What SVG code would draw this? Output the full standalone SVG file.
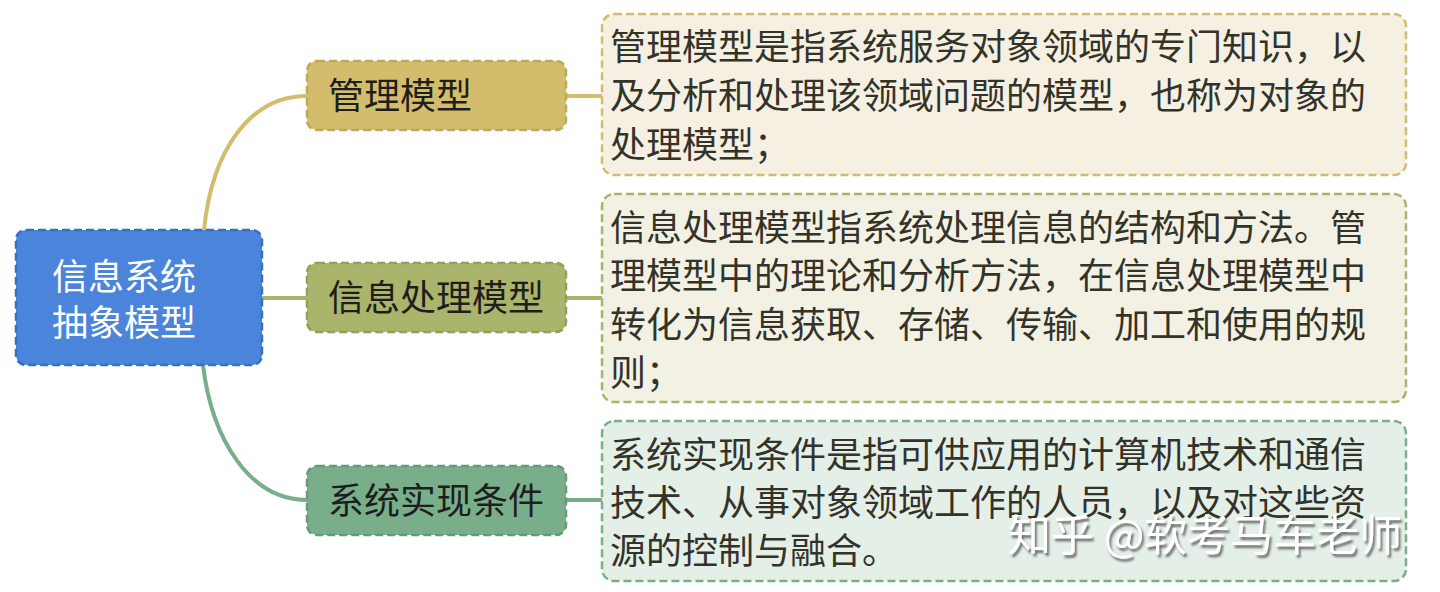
<svg xmlns="http://www.w3.org/2000/svg" width="1440" height="592" viewBox="0 0 1440 592">
<style>
text{font-family:"Noto Sans CJK SC","Noto Sans",sans-serif;}
.box{stroke-width:2.5;stroke-dasharray:8 4;}
.conn{fill:none;stroke-width:4;}
.lbl{font-size:36px;fill:#1e1e1e;}
.desc{font-size:36px;fill:#33332a;}
.root{font-size:36px;fill:#ffffff;}
</style>
<defs>
<filter id="sh" x="-5%" y="-20%" width="110%" height="150%">
<feDropShadow dx="2" dy="3" stdDeviation="1" flood-color="#555" flood-opacity="0.8"/>
</filter>
</defs>
<rect width="1440" height="592" fill="#ffffff"/>
<g id="connectors">
<path class="conn" stroke="#d3bd6c" d="M204,230 C212,150 250,96 307,96"/>
<path class="conn" stroke="#aab46a" d="M262,298 L307,298"/>
<path class="conn" stroke="#78ae8a" d="M203,365 C212,440 250,500 307,500"/>
<path class="conn" stroke="#d3bd6c" stroke-width="3" d="M566,96 L602,96"/>
<path class="conn" stroke="#aab46a" stroke-width="3" d="M566,298 L602,298"/>
<path class="conn" stroke="#78ae8a" stroke-width="3" d="M566,500 L602,500"/>
</g>
<g id="root">
<rect class="box" x="16" y="230" width="246" height="135" rx="10" fill="#4a84db" stroke="#3a6fc0"/>
<text class="root" x="124" y="290" text-anchor="middle">信息系统</text>
<text class="root" x="124" y="336" text-anchor="middle">抽象模型</text>
</g>
<g id="n1">
<rect class="box" x="307" y="61" width="259" height="69" rx="10" fill="#d3bd6c" stroke="#c0a955"/>
<text class="lbl" x="328" y="109">管理模型</text>
</g>
<g id="n2">
<rect class="box" x="307" y="263" width="259" height="69" rx="10" fill="#aab46a" stroke="#969f58"/>
<text class="lbl" x="328" y="311">信息处理模型</text>
</g>
<g id="n3">
<rect class="box" x="307" y="466" width="259" height="69" rx="10" fill="#78ae8a" stroke="#649a76"/>
<text class="lbl" x="328" y="514">系统实现条件</text>
</g>
<g id="d1">
<rect class="box" x="602" y="14" width="804" height="161" rx="12" fill="#f5f0e2" stroke="#d3bd6c"/>
<text class="desc" x="610" y="60">管理模型是指系统服务对象领域的专门知识，以</text>
<text class="desc" x="610" y="109">及分析和处理该领域问题的模型，也称为对象的</text>
<text class="desc" x="610" y="158">处理模型；</text>
</g>
<g id="d2">
<rect class="box" x="602" y="194" width="804" height="208" rx="12" fill="#f2f1e3" stroke="#aab46a"/>
<text class="desc" x="610" y="241">信息处理模型指系统处理信息的结构和方法。管</text>
<text class="desc" x="610" y="289">理模型中的理论和分析方法，在信息处理模型中</text>
<text class="desc" x="610" y="338">转化为信息获取、存储、传输、加工和使用的规</text>
<text class="desc" x="610" y="386">则；</text>
</g>
<g id="d3">
<rect class="box" x="602" y="421" width="804" height="160" rx="12" fill="#e4efe8" stroke="#78ae8a"/>
<text class="desc" x="610" y="468">系统实现条件是指可供应用的计算机技术和通信</text>
<text class="desc" x="610" y="516">技术、从事对象领域工作的人员，以及对这些资</text>
<text class="desc" x="610" y="564">源的控制与融合。</text>
</g>
<text x="1008" y="551" font-size="43" fill="#ffffff" filter="url(#sh)" style="font-family:'Noto Sans CJK SC',sans-serif">知乎 @软考马车老师</text>
</svg>
